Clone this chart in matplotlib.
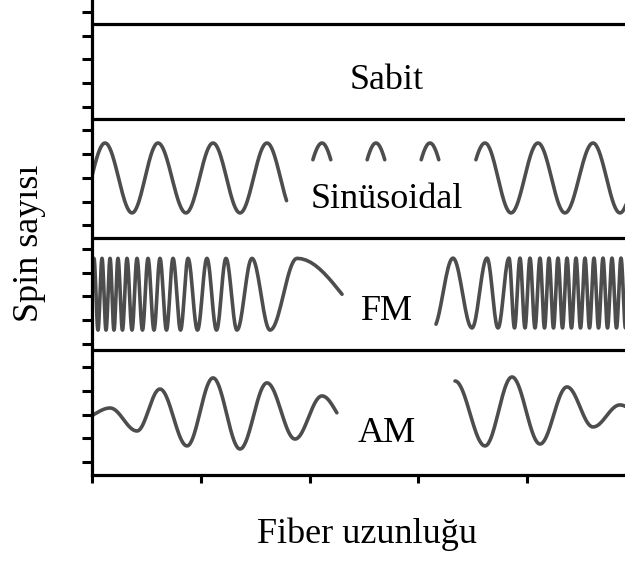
import numpy as np
import matplotlib
matplotlib.use("Agg")
import matplotlib.pyplot as plt

# x in tick units (5 ticks along the fiber), y in tick units (20 ticks)
panel_lines = [18.5, 14.49, 9.46, 4.73]
panel_names = ["Sabit", "Sinüsoidal", "FM", "AM"]
name_x = 2.71
name_y = [15.75, 10.73, 5.99, 0.84]

# sinusoidal: extrema positions
sin_x = [-0.129, 0.120, 0.368, 0.607, 0.864, 1.113, 1.361, 1.609, 1.857, 2.115,
         2.363, 2.611, 2.860, 3.108, 3.356, 3.614, 3.853, 4.101, 4.349, 4.607,
         4.855, 5.103]
sin_y = [10.52, 13.47] * 11
sin_full = [(0.0, 1.79), (3.53, 4.95)]
sin_caps = (1.9, 3.4, 12.67)

# FM, left half (frequency falls), right half (frequency rises)
fm_left_x = [0.018, 0.055, 0.092, 0.129, 0.166, 0.202, 0.239, 0.280, 0.322,
             0.368, 0.414, 0.464, 0.515, 0.570, 0.625, 0.685, 0.745, 0.814,
             0.883, 0.970, 1.057, 1.145, 1.232, 1.333, 1.471, 1.637, 1.885,
             2.713]
fm_left_y = [8.6, 5.57] * 14
fm_left_span = (0.0, 2.30)

fm_right_px = [433, 453, 472, 487, 498, 509, 514.5, 520, 525, 530, 535, 540,
               544.5, 549, 553.5, 558, 562.5, 567, 571.5, 576, 580.5, 585,
               589.5, 594, 598.5, 603, 607.5, 612, 616.5, 621, 625.5, 630]
fm_right_x = [(p - 92) / 108.75 for p in fm_right_px]
fm_right_y = [5.66, 8.61] * 16
fm_right_span = (3.163, 4.95)

# AM
am_left_x = [-0.083, 0.166, 0.414, 0.625, 0.874, 1.113, 1.361, 1.609, 1.867, 2.115, 2.363]
am_left_y = [1.86, 2.28, 1.31, 3.08, 0.68, 3.55, 0.55, 3.34, 0.97, 2.79, 1.56]
am_left_span = (0.0, 2.253)
am_right_x = [3.338, 3.614, 3.862, 4.120, 4.368, 4.607, 4.855, 5.085]
am_right_y = [3.42, 0.68, 3.59, 0.76, 3.17, 1.48, 2.41, 1.86]
am_right_span = (3.338, 4.95)

wave_color = "#4d4d4d"


def smooth(xs, ys, n=40):
    # half-cosine between neighbouring extrema
    px, py = [], []
    for i in range(len(xs) - 1):
        t = np.linspace(0, 1, n, endpoint=False)
        px.append(xs[i] + (xs[i + 1] - xs[i]) * t)
        py.append(ys[i] + (ys[i + 1] - ys[i]) * (1 - np.cos(np.pi * t)) / 2)
    px.append([xs[-1]])
    py.append([ys[-1]])
    return np.concatenate(px), np.concatenate(py)


def clip(x, y, lo, hi):
    y = y.copy()
    y[(x < lo) | (x > hi)] = np.nan
    return x, y


fig = plt.figure(figsize=(6.25, 5.64), dpi=100)
ax = fig.add_axes([92 / 625, 89 / 564, 533 / 625, 475 / 564])
ax.set_xlim(0, 533 / 108.75)
ax.set_ylim(-13 / 23.68, 462 / 23.68)

for s in ["top", "right"]:
    ax.spines[s].set_visible(False)
for s in ["left", "bottom"]:
    ax.spines[s].set_linewidth(2.3)

ax.set_xticks(range(5))
ax.set_yticks(range(20))
ax.tick_params(axis="y", direction="out", length=7.5, width=2.2, labelleft=False)
ax.tick_params(axis="x", direction="out", length=6, width=2.2, labelbottom=False)

for yl in panel_lines:
    ax.axhline(yl, color="black", lw=2.3)

kw = dict(color=wave_color, lw=2.6, solid_capstyle="round")

x, y = smooth(sin_x, sin_y)
for lo, hi in sin_full:
    ax.plot(*clip(x, y, lo, hi), **kw)
cx, cy = clip(x, y, sin_caps[0], sin_caps[1])
cy[cy < sin_caps[2]] = np.nan
ax.plot(cx, cy, **kw)

x, y = smooth(fm_left_x, fm_left_y, n=20)
ax.plot(*clip(x, y, *fm_left_span), **kw)
x, y = smooth(fm_right_x, fm_right_y, n=20)
ax.plot(*clip(x, y, *fm_right_span), **kw)

x, y = smooth(am_left_x, am_left_y)
ax.plot(*clip(x, y, *am_left_span), **kw)
x, y = smooth(am_right_x, am_right_y)
ax.plot(*clip(x, y, *am_right_span), **kw)

for name, yy in zip(panel_names, name_y):
    ax.text(name_x, yy, name, ha="center", va="baseline",
            family="Liberation Serif", fontsize=26)

fig.text(367 / 625, 21 / 564, "Fiber uzunluğu", ha="center", va="baseline",
         family="Liberation Serif", fontsize=26)
fig.text(30 / 625, 321 / 564, "Spin sayısı", ha="center", va="center",
         rotation=90, family="Liberation Serif", fontsize=26)

fig.savefig("out.png", dpi=100)
